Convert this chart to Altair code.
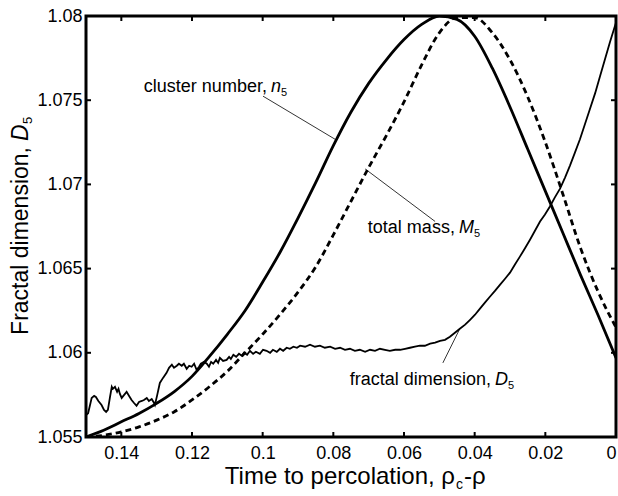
import altair as alt
import pandas as pd

FONT = "Liberation Sans"

# ---------------- data ----------------
x_grid = [0.150, 0.145, 0.140, 0.135, 0.130, 0.125, 0.120, 0.115, 0.110, 0.105,
          0.100, 0.095, 0.090, 0.085, 0.080, 0.075, 0.070, 0.065, 0.060, 0.055,
          0.050, 0.045, 0.040, 0.035, 0.030, 0.025, 0.020, 0.015, 0.010, 0.005, 0.000]

cluster_number = [1.0550, 1.0554, 1.0559, 1.0564, 1.0570, 1.0577, 1.0586, 1.0598, 1.0611, 1.0625,
                  1.0642, 1.0660, 1.0680, 1.0701, 1.0723, 1.0743, 1.0760, 1.0774, 1.0786, 1.0795,
                  1.0800, 1.0798, 1.0788, 1.0769, 1.0746, 1.0721, 1.0696, 1.0671, 1.0646, 1.0622, 1.0597]

total_mass = [1.0550, 1.0551, 1.0553, 1.0556, 1.0560, 1.0565, 1.0572, 1.0580, 1.0589, 1.0600,
              1.0611, 1.0623, 1.0636, 1.0651, 1.0670, 1.0690, 1.0710, 1.0729, 1.0749, 1.0771,
              1.0790, 1.0799, 1.0799, 1.0790, 1.0774, 1.0752, 1.0725, 1.0694, 1.0662, 1.0636, 1.0615]

frac_x = [0.1500, 0.1494, 0.1484, 0.1477, 0.1472, 0.1465, 0.1456, 0.1449, 0.1443, 0.1438,
          0.1432, 0.1427, 0.1424, 0.1418, 0.1412, 0.1408, 0.1404, 0.1399, 0.1392, 0.1385,
          0.1378, 0.1371, 0.1364, 0.1357, 0.1350, 0.1342, 0.1336, 0.1328, 0.1322, 0.1314,
          0.1309, 0.1305, 0.1299, 0.1291, 0.1282, 0.1272, 0.1265, 0.1257, 0.1251, 0.1243,
          0.1237, 0.1229, 0.1223, 0.1215, 0.1208, 0.1201, 0.1194, 0.1187, 0.1180, 0.1175,
          0.1166, 0.1158, 0.1152, 0.1146, 0.1140, 0.1132, 0.1126, 0.1121, 0.1112, 0.1102,
          0.1095, 0.1090, 0.1083, 0.1075, 0.1067, 0.1059, 0.1053, 0.1044, 0.1036, 0.1027,
          0.1019, 0.1008, 0.0999, 0.0989, 0.0979, 0.0971, 0.0960, 0.0951, 0.0942, 0.0932,
          0.0923, 0.0913, 0.0903, 0.0894, 0.0880, 0.0866, 0.0852, 0.0838, 0.0824, 0.0809,
          0.0795, 0.0781, 0.0767, 0.0753, 0.0739, 0.0725, 0.0710, 0.0696, 0.0682, 0.0668,
          0.0654, 0.0640, 0.0625, 0.0611, 0.0597, 0.0583, 0.0569, 0.0555, 0.0541, 0.0526,
          0.0512, 0.0498, 0.0484, 0.0470, 0.0456, 0.0442, 0.0427, 0.0413, 0.0399, 0.0385,
          0.0371, 0.0357, 0.0342, 0.0328, 0.0314, 0.0300, 0.0286, 0.0272, 0.0258, 0.0243,
          0.0229, 0.0215, 0.0201, 0.0187, 0.0173, 0.0158, 0.0144, 0.0130, 0.0116, 0.0102,
          0.0088, 0.0074, 0.0059, 0.0045, 0.0031, 0.0017, 0.0003, 0.0000]

frac_y = [1.05630, 1.05641, 1.05732, 1.05744, 1.05738, 1.05714, 1.05690, 1.05661, 1.05649, 1.05661,
          1.05738, 1.05798, 1.05786, 1.05798, 1.05768, 1.05786, 1.05756, 1.05732, 1.05750, 1.05768,
          1.05744, 1.05720, 1.05702, 1.05685, 1.05708, 1.05714, 1.05720, 1.05732, 1.05714, 1.05726,
          1.05708, 1.05690, 1.05744, 1.05821, 1.05851, 1.05881, 1.05911, 1.05929, 1.05911, 1.05923,
          1.05935, 1.05923, 1.05935, 1.05905, 1.05923, 1.05917, 1.05935, 1.05899, 1.05917, 1.05935,
          1.05946, 1.05935, 1.05917, 1.05946, 1.05935, 1.05958, 1.05940, 1.05970, 1.05952, 1.05958,
          1.05976, 1.05964, 1.05988, 1.05976, 1.05994, 1.05982, 1.06000, 1.05988, 1.06012, 1.05994,
          1.06006, 1.05994, 1.06018, 1.06012, 1.06000, 1.06018, 1.06006, 1.06024, 1.06012, 1.06030,
          1.06024, 1.06036, 1.06030, 1.06042, 1.06036, 1.06048, 1.06036, 1.06042, 1.06030, 1.06036,
          1.06024, 1.06030, 1.06018, 1.06024, 1.06012, 1.06018, 1.06006, 1.06018, 1.06012, 1.06024,
          1.06018, 1.06012, 1.06018, 1.06018, 1.06024, 1.06030, 1.06036, 1.06042, 1.06042, 1.06054,
          1.06060, 1.06071, 1.06077, 1.06095, 1.06119, 1.06143, 1.06167, 1.06196, 1.06226, 1.06262,
          1.06298, 1.06333, 1.06369, 1.06405, 1.06440, 1.06476, 1.06524, 1.06571, 1.06619, 1.06673,
          1.06726, 1.06780, 1.06821, 1.06869, 1.06923, 1.06976, 1.07042, 1.07113, 1.07190, 1.07268,
          1.07357, 1.07446, 1.07542, 1.07643, 1.07744, 1.07845, 1.07940, 1.07960]

x_ticks = [0.14, 0.12, 0.10, 0.08, 0.06, 0.04, 0.02, 0.0]
y_ticks = [1.055, 1.06, 1.065, 1.07, 1.075, 1.08]

# annotation anchors (data units) and leader lines
ann_text = ["cluster number,", "total mass,", "fractal dimension,"]
ann_sym = ["n", "M", "D"]
ann_x = [0.0988, 0.0456, 0.0354]
ann_y = [1.0755, 1.0671, 1.0581]
ann_symw = [10, 15, 13]

lead_x = [0.0999, 0.0710, 0.0490]
lead_y = [1.07524, 1.07092, 1.05940]
lead_x2 = [0.0795, 0.0512, 0.0442]
lead_y2 = [1.07268, 1.06780, 1.06143]

# ---------------- chart ----------------
W, H = 530, 421
assert len(frac_x) == len(frac_y)

xs = alt.Scale(domain=[0, 0.15], reverse=True, nice=False, zero=False)
ys = alt.Scale(domain=[1.055, 1.08], nice=False, zero=False)

x_axis = alt.Axis(values=x_ticks, format="~g", title=None, tickSize=0, domain=False, grid=False,
                  labelFontSize=18, labelPadding=7, labelColor="black", labelFont=FONT,
                  labelAlign={"condition": {"test": "datum.value == 0", "value": "right"}, "value": "center"})
y_axis = alt.Axis(values=y_ticks, format="~g", title=None, tickSize=0, domain=False, grid=False,
                  labelFontSize=18, labelPadding=4, labelColor="black", labelFont=FONT)


def X(f="x"):
    return alt.X(f"{f}:Q", scale=xs, axis=x_axis)


def Y(f="y"):
    return alt.Y(f"{f}:Q", scale=ys, axis=y_axis)


curves = pd.DataFrame({"x": x_grid, "n5": cluster_number, "m5": total_mass})
frac = pd.DataFrame({"x": frac_x, "y": frac_y})

n5_line = alt.Chart(curves).mark_line(color="black", strokeWidth=2.8, interpolate="monotone", clip=True).encode(
    x=X(), y=Y("n5"))
m5_line = alt.Chart(curves).mark_line(color="black", strokeWidth=2.8, strokeDash=[6, 4],
                                      interpolate="monotone", clip=True).encode(x=X(), y=Y("m5"))
d5_line = alt.Chart(frac).mark_line(color="black", strokeWidth=1.8, clip=True).encode(x=X(), y=Y())

# inward ticks on all four sides
xt = pd.DataFrame({"x": x_ticks[:-1]})
yt = pd.DataFrame({"y": y_ticks[1:-1]})
tick_style = dict(color="black", strokeWidth=2)
t_bottom = alt.Chart(xt).mark_rule(**tick_style).encode(x=X(), y=alt.value(H), y2=alt.value(H - 5))
t_top = alt.Chart(xt).mark_rule(**tick_style).encode(x=X(), y=alt.value(0), y2=alt.value(5))
t_left = alt.Chart(yt).mark_rule(**tick_style).encode(y=Y(), x=alt.value(0), x2=alt.value(5))
t_right = alt.Chart(yt).mark_rule(**tick_style).encode(y=Y(), x=alt.value(W), x2=alt.value(W - 5))

# annotations
leaders = pd.DataFrame({"x": lead_x, "y": lead_y, "x2": lead_x2, "y2": lead_y2})
lead_rules = alt.Chart(leaders).mark_rule(color="black", strokeWidth=0.8).encode(
    x=X(), y=Y(), x2="x2:Q", y2="y2:Q")

ann = pd.DataFrame({"x": ann_x, "y": ann_y, "t": ann_text, "s": ann_sym, "w": ann_symw})
ann_main = alt.Chart(ann).mark_text(align="right", baseline="alphabetic", fontSize=18, font=FONT,
                                    color="black").encode(x=X(), y=Y(), text="t:N")
ann_layers = [ann_main]
for i in range(len(ann_text)):
    one = ann.iloc[[i]]
    ann_layers.append(alt.Chart(one).mark_text(align="left", baseline="alphabetic", fontSize=18, font=FONT,
                                               fontStyle="italic", dx=4, color="black").encode(
        x=X(), y=Y(), text="s:N"))
    ann_layers.append(alt.Chart(one).mark_text(align="left", baseline="alphabetic", fontSize=11, font=FONT,
                                               dx=4 + ann_symw[i], dy=4, color="black", text="5").encode(
        x=X(), y=Y()))

# axis titles as text pieces (italics + subscripts)
one_row = pd.DataFrame({"a": [0]})
ty_x, ty_y = -58, 131
yt1 = alt.Chart(one_row).mark_text(text="Fractal dimension,", angle=270, align="right", baseline="alphabetic",
                                   fontSize=23, font=FONT, color="black").encode(
    x=alt.value(ty_x), y=alt.value(ty_y))
yt2 = alt.Chart(one_row).mark_text(text="D", angle=270, align="left", baseline="alphabetic", dx=6,
                                   fontSize=23, font=FONT, fontStyle="italic", color="black").encode(
    x=alt.value(ty_x), y=alt.value(ty_y))
yt3 = alt.Chart(one_row).mark_text(text="5", angle=270, align="left", baseline="alphabetic", dx=23, dy=4,
                                   fontSize=13, font=FONT, color="black").encode(
    x=alt.value(ty_x), y=alt.value(ty_y))

tx_x, tx_y = 369, 468
xt1 = alt.Chart(one_row).mark_text(text="Time to percolation, ρ", align="right", baseline="alphabetic",
                                   fontSize=24, font=FONT, color="black").encode(
    x=alt.value(tx_x), y=alt.value(tx_y))
xt2 = alt.Chart(one_row).mark_text(text="c", align="left", baseline="alphabetic", dx=1, dy=5,
                                   fontSize=14, font=FONT, color="black").encode(
    x=alt.value(tx_x), y=alt.value(tx_y))
xt3 = alt.Chart(one_row).mark_text(text="-ρ", align="left", baseline="alphabetic", dx=9,
                                   fontSize=24, font=FONT, color="black").encode(
    x=alt.value(tx_x), y=alt.value(tx_y))

chart = alt.layer(
    n5_line, m5_line, d5_line,
    t_bottom, t_top, t_left, t_right,
    lead_rules, *ann_layers,
    yt1, yt2, yt3, xt1, xt2, xt3,
).properties(
    width=W, height=H,
    autosize=alt.AutoSizeParams(type="none"),
    padding={"left": 86, "top": 16, "right": 2, "bottom": 59},
    background="white",
).configure_view(stroke="black", strokeWidth=3)

chart.save("out.html", embed_options={"renderer": "svg", "actions": False})
